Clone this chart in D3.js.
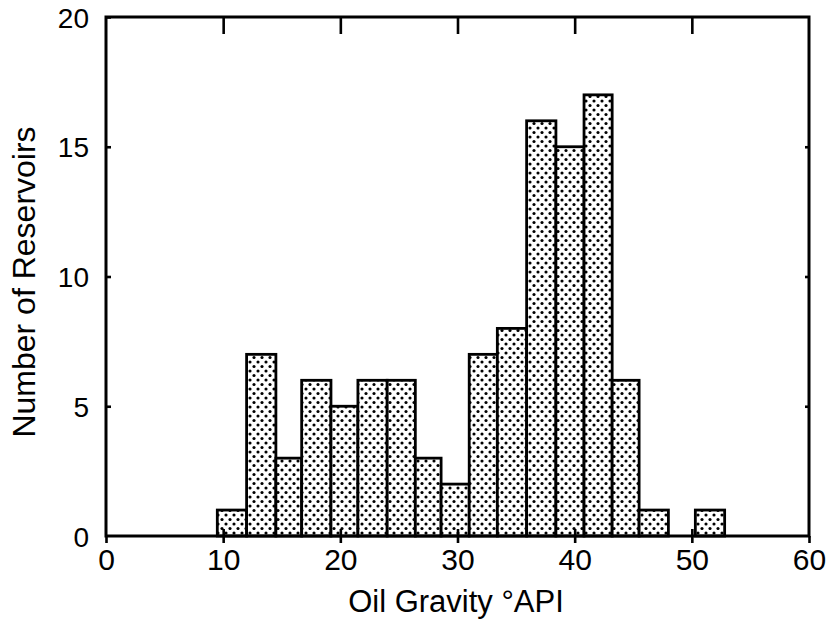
<!DOCTYPE html>
<html><head><meta charset="utf-8">
<script src="https://cdn.jsdelivr.net/npm/d3@7"></script>
<style>body{margin:0;background:#fff}svg{display:block}text{font-family:"Liberation Sans",Arial,Helvetica,sans-serif;fill:#000}</style>
</head><body><div id="c"></div>
<script>
const binStarts = [9.5, 12, 14.5, 16.7, 19.2, 21.5, 24, 26.4, 28.6, 31, 33.4, 35.9, 38.4, 40.8, 43.2, 45.5, 48, 50.3];
const binEnds   = [12, 14.5, 16.7, 19.2, 21.5, 24, 26.4, 28.6, 31, 33.4, 35.9, 38.4, 40.8, 43.2, 45.5, 48, 50.3, 52.8];
const counts    = [1, 7, 3, 6, 5, 6, 6, 3, 2, 7, 8, 16, 15, 17, 6, 1, 0, 1];
const xTicks = [0, 10, 20, 30, 40, 50, 60];
const yTicks = [0, 5, 10, 15, 20];
const xTitle = "Oil Gravity °API";
const yTitle = "Number of Reservoirs";

const W = 828, H = 622;
const L = 106, R = 809, T = 17, B = 536;
const svg = d3.select("#c").append("svg").attr("width", W).attr("height", H);
const x = d3.scaleLinear().domain([0, 60]).range([L, R]);
const y = d3.scaleLinear().domain([0, 20]).range([B, T]);

const defs = svg.append("defs");
const pat = defs.append("pattern").attr("id", "dots").attr("patternUnits", "userSpaceOnUse")
  .attr("width", 8).attr("height", 9);
pat.append("rect").attr("width", 8).attr("height", 9).attr("fill", "#fff");
pat.append("circle").attr("cx", 2).attr("cy", 2).attr("r", 1.55).attr("fill", "#000");
pat.append("circle").attr("cx", 6).attr("cy", 6.5).attr("r", 1.55).attr("fill", "#000");

const bins = counts.map((c, i) => ({x0: binStarts[i], x1: binEnds[i], c}));
svg.append("g").selectAll("rect").data(bins.filter(d => d.c > 0)).join("rect")
  .attr("x", d => x(d.x0)).attr("width", d => x(d.x1) - x(d.x0))
  .attr("y", d => y(d.c)).attr("height", d => y(0) - y(d.c))
  .attr("fill", "url(#dots)").attr("stroke", "#000").attr("stroke-width", 2.8);

// frame
svg.append("rect").attr("x", L).attr("y", T).attr("width", R - L).attr("height", B - T)
  .attr("fill", "none").attr("stroke", "#000").attr("stroke-width", 3);

// bottom axis: labels + ticks straddling the axis
const gb = svg.append("g").attr("transform", `translate(0,${B})`)
  .call(d3.axisBottom(x).tickValues(xTicks).tickSize(7).tickPadding(6).tickFormat(d3.format("d")));
const gb2 = svg.append("g").attr("transform", `translate(0,${B})`)
  .call(d3.axisTop(x).tickValues(xTicks.slice(1, -1)).tickSize(7).tickFormat(""));
// top axis ticks inward
const gt = svg.append("g").attr("transform", `translate(0,${T})`)
  .call(d3.axisBottom(x).tickValues(xTicks.slice(1, -1)).tickSize(17).tickFormat(""));
// left axis
const gl = svg.append("g").attr("transform", `translate(${L},0)`)
  .call(d3.axisLeft(y).tickValues(yTicks).tickSize(0).tickPadding(17).tickFormat(d3.format("d")));
const gl2 = svg.append("g").attr("transform", `translate(${L},0)`)
  .call(d3.axisRight(y).tickValues(yTicks.slice(1)).tickSize(5).tickFormat(""));
const gr = svg.append("g").attr("transform", `translate(${R},0)`)
  .call(d3.axisLeft(y).tickValues(yTicks.slice(1, -1)).tickSize(4).tickFormat(""));

[gb, gb2, gt, gl, gl2, gr].forEach(g => {
  g.select(".domain").remove();
  g.selectAll("line").attr("stroke", "#000").attr("stroke-width", 2.6);
  g.selectAll("text").attr("fill", "#000")
    .attr("font-family", '"Liberation Sans",Arial,sans-serif');
});
gb.selectAll("text").attr("font-size", 30);
gl.selectAll("text").attr("font-size", 28).attr("dy", "0.36em");

svg.append("text").attr("x", 456).attr("y", 612).attr("text-anchor", "middle")
  .attr("font-size", 31).text(xTitle);
svg.append("text").attr("transform", `translate(35,282) rotate(-90)`)
  .attr("text-anchor", "middle").attr("font-size", 32).text(yTitle);
</script></body></html>
